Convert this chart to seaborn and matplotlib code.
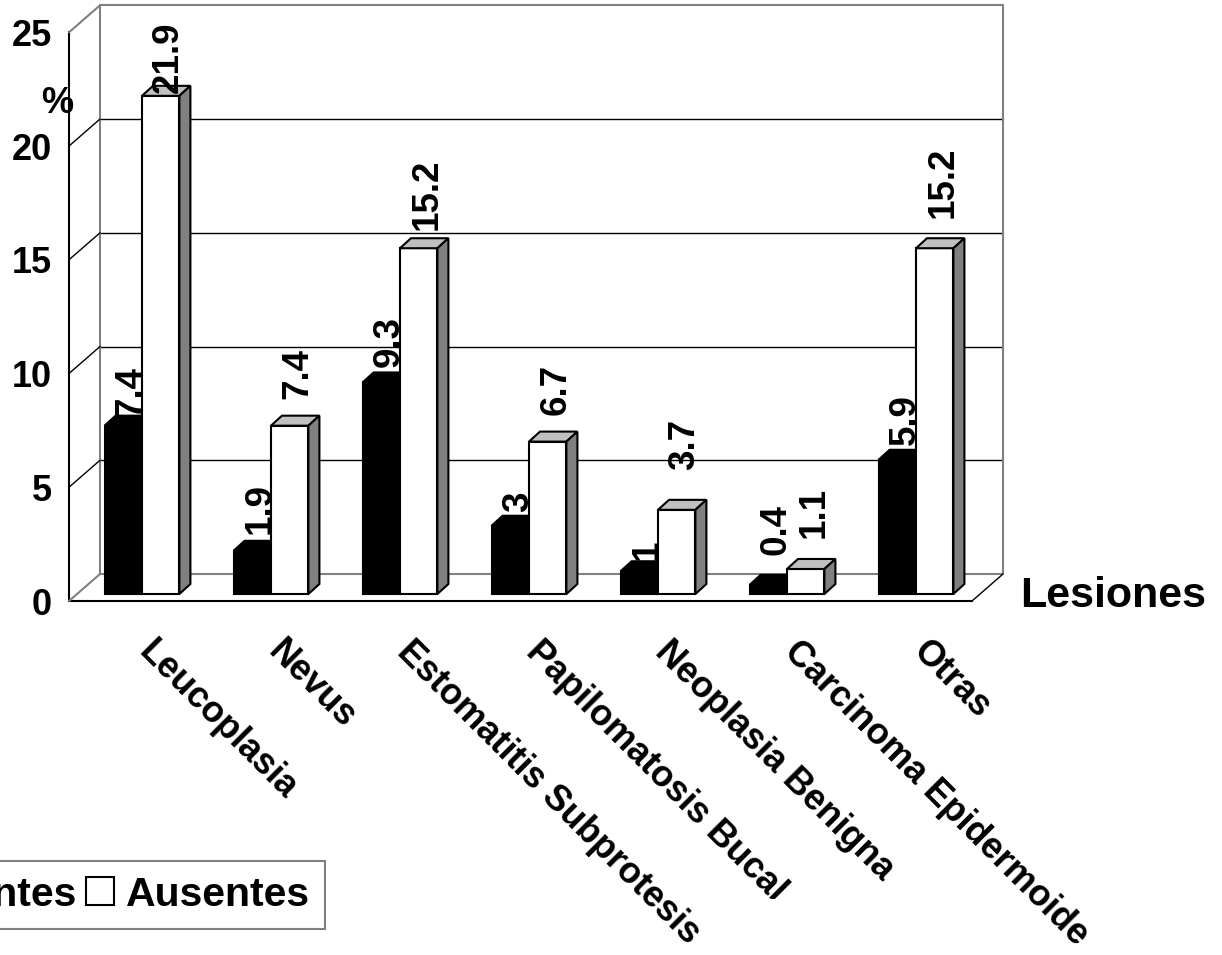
import numpy as np
import pandas as pd
import matplotlib
matplotlib.use("Agg")
import matplotlib.pyplot as plt
from matplotlib.transforms import offset_copy, IdentityTransform, Bbox
from matplotlib.patches import Polygon, Patch
from matplotlib.lines import Line2D
import seaborn as sns

# ---- data -------------------------------------------------------------
lesiones = ["Leucoplasia", "Nevus", "Estomatitis Subprotesis",
            "Papilomatosis Bucal", "Neoplasia Benigna",
            "Carcinoma Epidermoide", "Otras"]
presentes = [7.4, 1.9, 9.3, 3, 1, 0.4, 5.9]
ausentes = [21.9, 7.4, 15.2, 6.7, 3.7, 1.1, 15.2]
grupos = ["Presentes", "Ausentes"]
y_ticks = [0, 5, 10, 15, 20, 25]

# ---- layout (pixels) --------------------------------------------------
W, H, DPI = 1222, 955, 100
lift_presentes = [9, 17, 15, 14, 11, 30, 15]   # gap between bar top and its value label
lift_ausentes = [3, 27, 18, 27, 40, 31, 30]
WALL_DX, WALL_DY = 31, 27      # depth of the back wall
ROW_DX, ROW_DY = 8.5, 7        # bars sit a little behind the front plane
BAR_DX, BAR_DY = 11, 10        # depth of each bar

GRAY = "#808080"
TOP_GRAY = "#c0c0c0"

sns.set_style("white")
plt.rcParams["font.family"] = ["Liberation Sans", "DejaVu Sans"]
plt.rcParams["font.weight"] = "bold"
for key in ("text.color", "axes.labelcolor", "xtick.color", "ytick.color",
            "xtick.labelcolor", "ytick.labelcolor"):
    plt.rcParams[key] = "black"

fig = plt.figure(figsize=(W / DPI, H / DPI), dpi=DPI)
fig.patch.set_facecolor("white")
ax = fig.add_axes([69 / W, (H - 601) / H, (972 - 69) / W, (601 - 32.3) / H])
ax.patch.set_visible(False)

df = pd.DataFrame({
    "lesion": lesiones * 2,
    "pct": presentes + ausentes,
    "grupo": [grupos[0]] * len(lesiones) + [grupos[1]] * len(lesiones),
})

sns.barplot(data=df, x="lesion", y="pct", hue="grupo", order=lesiones,
            hue_order=grupos, palette={"Presentes": "black", "Ausentes": "white"},
            width=0.58, edgecolor="black", linewidth=1.5, saturation=1,
            errorbar=None, legend=False, ax=ax)

ax.set_xlim(-0.5, len(lesiones) - 0.5)
ax.set_ylim(0, 25)
ax.set_xlabel("")
ax.set_ylabel("")

# ---- front axes -------------------------------------------------------
for s in ("top", "right"):
    ax.spines[s].set_visible(False)
for s in ("left", "bottom"):
    ax.spines[s].set_color("black")
    ax.spines[s].set_linewidth(1.5)
    ax.spines[s].set_zorder(4)

ax.set_yticks(y_ticks)
ax.set_yticklabels([str(t) for t in y_ticks], fontsize=26, fontweight="bold",
                   color="black")
ax.tick_params(axis="y", direction="out", length=8.6, width=1, pad=3.5,
               color="black")
ax.set_xticks(range(len(lesiones)))
ax.set_xticklabels([])
ax.set_xticks(np.arange(-0.5, len(lesiones), 1.0), minor=True)
ax.tick_params(axis="x", which="major", length=0, labelbottom=False)
ax.tick_params(axis="x", which="minor", direction="out", length=9.5,
               width=1, color="black")

# ---- back wall, side wall, floor ---------------------------------------
back = offset_copy(ax.transData, fig=fig, x=WALL_DX, y=WALL_DY, units="dots")
x_lo, x_hi = -0.5, len(lesiones) - 0.5

for v in y_ticks[1:-1]:
    ax.plot([x_lo, x_hi], [v, v], transform=back, color="black", lw=1,
            clip_on=False, zorder=0.5)
ax.plot([x_lo, x_hi, x_hi, x_lo, x_lo], [25, 25, 0, 0, 25], transform=back,
        color=GRAY, lw=1.5, clip_on=False, zorder=0.6)


def link(xv, yv, color, lw):
    p1 = ax.transData.transform((xv, yv))
    p2 = back.transform((xv, yv))
    fig.add_artist(Line2D([p1[0], p2[0]], [p1[1], p2[1]],
                          transform=IdentityTransform(), color=color, lw=lw,
                          zorder=0.7))


for v in y_ticks:
    link(x_lo, v, GRAY if v in (0, 25) else "black", 1.5 if v in (0, 25) else 1)
link(x_hi, 0, "black", 1)

# ---- bars with depth ---------------------------------------------------
row = offset_copy(ax.transData, fig=fig, x=ROW_DX, y=ROW_DY, units="dots")
fills = {0: ("black", "black"), 1: (TOP_GRAY, GRAY)}
lifts = {0: lift_presentes, 1: lift_ausentes}

for k, cont in enumerate(ax.containers):
    z = 2 + k
    for j, p in enumerate(cont.patches):
        p.set_transform(row)
        p.set_clip_on(False)
        p.set_zorder(z)
        xl, yb = row.transform((p.get_x(), 0))
        xr, yt = row.transform((p.get_x() + p.get_width(), p.get_height()))
        top_c, side_c = fills[k]
        top = [(xl, yt), (xr, yt), (xr + BAR_DX, yt + BAR_DY), (xl + BAR_DX, yt + BAR_DY)]
        side = [(xr, yb), (xr + BAR_DX, yb + BAR_DY), (xr + BAR_DX, yt + BAR_DY), (xr, yt)]
        for poly, col in ((top, top_c), (side, side_c)):
            ax.add_patch(Polygon(poly, closed=True, facecolor=col, edgecolor="black",
                                 lw=1.5, transform=IdentityTransform(),
                                 clip_on=False, zorder=z + 0.1, joinstyle="miter"))
        # value label above the bar
        val = p.get_height()
        ax.text((xl + xr) / 2 + 8, yt + lifts[k][j], f"{val:g}",
                transform=IdentityTransform(), rotation=90, ha="center",
                va="bottom", fontsize=26.5, fontweight="bold", color="black",
                zorder=6)

# ---- category labels ---------------------------------------------------
for i, name in enumerate(lesiones):
    cx = ax.transData.transform((i, 0))[0]
    t = ax.text(cx + 23, H - 634, name, transform=IdentityTransform(),
                rotation=-45, rotation_mode="anchor", ha="left", va="top",
                fontsize=26, fontweight="bold", color="black", zorder=6)
    if name == "Papilomatosis Bucal":
        t.set_clip_box(Bbox([[0, H - 899], [W, H]]))
        t.set_clip_on(True)

fig.text(1020 / W, 1 - 607 / H, "Lesiones", fontsize=31, fontweight="bold",
         color="black", ha="left", va="baseline")
fig.text(41 / W, 1 - 113 / H, "%", fontsize=26, fontweight="bold",
         color="black", ha="left", va="baseline")

# ---- legend ------------------------------------------------------------
handles = [Patch(facecolor="black", edgecolor="black", lw=1.5),
           Patch(facecolor="white", edgecolor="black", lw=1.5)]
leg = fig.legend(handles, grupos, loc="upper right",
                 bbox_to_anchor=(325 / W, 1 - 861 / H), ncol=2, fontsize=29.5,
                 frameon=True, fancybox=False, framealpha=1, edgecolor=GRAY,
                 handlelength=0.675, handleheight=0.675, handletextpad=0.3,
                 columnspacing=0.25, borderpad=0.36, borderaxespad=0)
leg.get_frame().set_linewidth(1.5)
for txt in leg.get_texts():
    txt.set_color("black")

fig.savefig("out.png", dpi=DPI, facecolor="white")
